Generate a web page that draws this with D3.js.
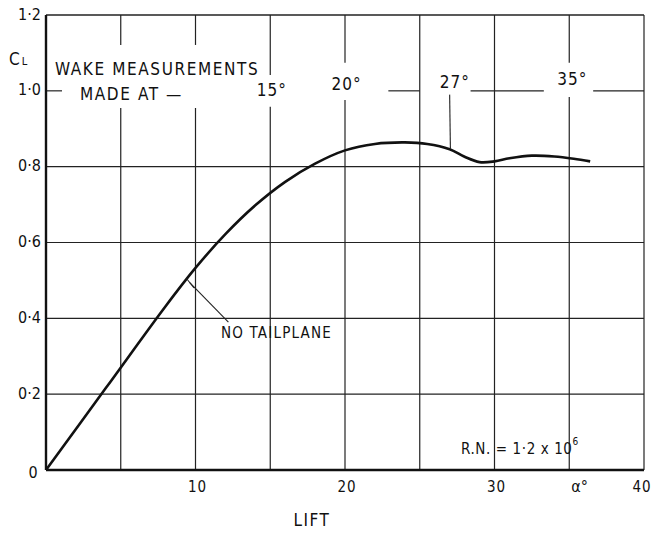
<!DOCTYPE html>
<html>
<head>
<meta charset="utf-8">
<script src="https://cdn.jsdelivr.net/npm/d3@7"></script>
<style>
  body { margin: 0; background: #fff; }
  text { font-family: "DejaVu Sans Condensed", "DejaVu Sans", sans-serif; fill: #111; }
</style>
</head>
<body>
<svg id="chart" width="656" height="537"></svg>
<script>
// angle of incidence (deg) vs lift coefficient, no tailplane
const alpha = [0, 4, 8, 10, 12, 14, 16, 18, 20, 22, 24, 25.5, 27, 28, 29, 30, 31, 32.5, 34, 35.3, 36.4];
const cl    = [0, 0.216, 0.432, 0.533, 0.622, 0.698, 0.76, 0.808, 0.843, 0.86, 0.864, 0.86, 0.846, 0.826, 0.812, 0.814, 0.822, 0.829, 0.827, 0.821, 0.814];

const xTicks = [10, 20, 30, 40];
const yTicks = [0, 0.2, 0.4, 0.6, 0.8, 1.0, 1.2];
const yTickLabels = ["0", "0·2", "0·4", "0·6", "0·8", "1·0", "1·2"];
const xGrid = [5, 10, 15, 20, 25, 30, 35];
const yGrid = [0.2, 0.4, 0.6, 0.8];

// gaps in the grid where the wake labels sit
const xGridGaps = [[5, 0.955, 1.121], [10, 0.955, 1.121], [15, 0.958, 1.042], [20, 0.976, 1.074], [35, 0.984, 1.074]];
const oneLineSegments = [[0, 1.07], [22.9, 25], [28.4, 33.3], [36.6, 40]];
const wakeAngles = [{ a: 15.1, label: "15°", y: 1.0 }, { a: 20.1, label: "20°", y: 1.016 }, { a: 27.35, label: "27°", y: 1.02 }, { a: 35.2, label: "35°", y: 1.029 }];

const svg = d3.select("#chart");
const x = d3.scaleLinear().domain([0, 40]).range([46, 644]);
const y = d3.scaleLinear().domain([0, 1.2]).range([470, 15]);

const grid = svg.append("g").attr("stroke", "#222").attr("stroke-width", 1.2);

// vertical grid with gaps
xGrid.forEach(v => {
  const gap = xGridGaps.find(g => g[0] === v);
  const segs = gap ? [[0, gap[1]], [gap[2], 1.2]] : [[0, 1.2]];
  segs.forEach(s => grid.append("line")
    .attr("x1", x(v)).attr("x2", x(v))
    .attr("y1", y(s[0])).attr("y2", y(s[1])));
});

// horizontal grid
yGrid.forEach(v => grid.append("line")
  .attr("x1", x(0)).attr("x2", x(40))
  .attr("y1", y(v)).attr("y2", y(v)));
oneLineSegments.forEach(s => grid.append("line")
  .attr("x1", x(s[0])).attr("x2", x(s[1]))
  .attr("y1", y(1.0)).attr("y2", y(1.0)));

// frame
svg.append("line").attr("stroke", "#222").attr("stroke-width", 1.4)
  .attr("x1", x(0)).attr("x2", x(40)).attr("y1", y(1.2)).attr("y2", y(1.2));
svg.append("line").attr("stroke", "#222").attr("stroke-width", 1.2)
  .attr("x1", x(40)).attr("x2", x(40)).attr("y1", y(1.2)).attr("y2", y(0));
svg.append("line").attr("stroke", "#111").attr("stroke-width", 2.4)
  .attr("x1", x(0)).attr("x2", x(0)).attr("y1", y(1.2)).attr("y2", y(0));
svg.append("line").attr("stroke", "#111").attr("stroke-width", 2.4)
  .attr("x1", x(0)).attr("x2", x(40)).attr("y1", y(0)).attr("y2", y(0));

// axis labels
svg.append("g").selectAll("text").data(yTicks).join("text")
  .attr("x", d => d === 0 ? 33 : 41)
  .attr("y", d => y(d) + (d === 0 ? 3 : 0))
  .attr("text-anchor", d => d === 0 ? "middle" : "end")
  .attr("dominant-baseline", "middle")
  .attr("font-size", 16)
  .text((d, i) => yTickLabels[i]);

svg.append("g").selectAll("text").data(xTicks).join("text")
  .attr("x", d => x(d) + (d === 40 ? -2 : 2))
  .attr("y", 487)
  .attr("text-anchor", "middle")
  .attr("dominant-baseline", "middle")
  .attr("font-size", 15)
  .attr("letter-spacing", 1)
  .text(d => d);

svg.append("text").attr("x", x(35.7)).attr("y", 487)
  .attr("text-anchor", "middle").attr("dominant-baseline", "middle")
  .attr("font-size", 16).text("α°");

const cl_t = svg.append("text").attr("x", 9).attr("y", 65).attr("font-size", 17);
cl_t.append("tspan").text("C");
cl_t.append("tspan").attr("font-size", 11).attr("dy", 0).attr("dx", 2).text("L");

svg.append("text").attr("x", 312).attr("y", 521)
  .attr("text-anchor", "middle").attr("dominant-baseline", "middle")
  .attr("font-size", 17).attr("letter-spacing", 1.5).text("LIFT");

// wake annotations
svg.append("text").attr("x", 55).attr("y", 70).attr("dominant-baseline", "middle")
  .attr("font-size", 17).attr("letter-spacing", 1.6).text("WAKE MEASUREMENTS");
svg.append("text").attr("x", 80).attr("y", 95).attr("dominant-baseline", "middle")
  .attr("font-size", 17).attr("letter-spacing", 1.6).text("MADE AT —");

svg.append("g").selectAll("text").data(wakeAngles).join("text")
  .attr("x", d => x(d.a))
  .attr("y", d => y(d.y))
  .attr("text-anchor", "middle")
  .attr("dominant-baseline", "middle")
  .attr("font-size", 17)
  .attr("letter-spacing", 1)
  .text(d => d.label);

// leader from 27° label to the curve
svg.append("line").attr("stroke", "#222").attr("stroke-width", 1.1)
  .attr("x1", x(27.0)).attr("x2", x(27.05)).attr("y1", y(0.99)).attr("y2", y(0.848));

// lift curve
svg.append("path")
  .datum(alpha.map((a, i) => [a, cl[i]]))
  .attr("fill", "none")
  .attr("stroke", "#111")
  .attr("stroke-width", 2.6)
  .attr("stroke-linejoin", "round")
  .attr("d", d3.line().x(d => x(d[0])).y(d => y(d[1])).curve(d3.curveCatmullRom.alpha(0.5)));

// NO TAILPLANE label and leader
svg.append("line").attr("stroke", "#222").attr("stroke-width", 1.1)
  .attr("x1", x(12.2)).attr("x2", x(9.6)).attr("y1", y(0.39)).attr("y2", y(0.495));
svg.append("line").attr("stroke", "#222").attr("stroke-width", 1.1)
  .attr("x1", x(9.4)).attr("x2", x(9.9)).attr("y1", y(0.505)).attr("y2", y(0.48));
svg.append("text").attr("x", 221).attr("y", 333).attr("dominant-baseline", "middle")
  .attr("font-size", 15).attr("letter-spacing", 1.2).text("NO TAILPLANE");

// Reynolds number
const rn = svg.append("text").attr("x", 461).attr("y", 449).attr("dominant-baseline", "middle")
  .attr("font-size", 15).attr("letter-spacing", 0.6);
rn.append("tspan").text("R.N. = 1·2 x 10");
rn.append("tspan").attr("font-size", 10).attr("dy", -7).text("6");
</script>
</body>
</html>
